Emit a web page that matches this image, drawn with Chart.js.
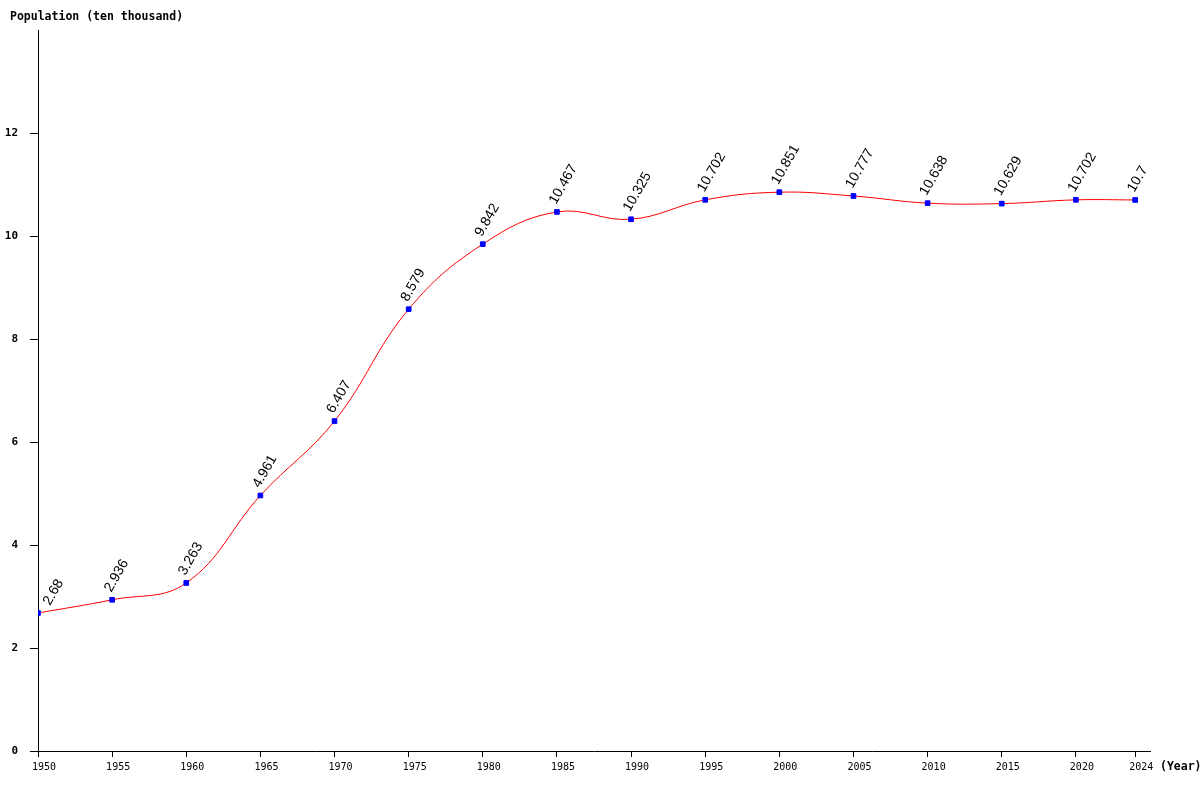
<!DOCTYPE html>
<html>
<head>
<meta charset="utf-8">
<style>
  html, body { margin: 0; padding: 0; background: #fff; }
  #wrap { width: 1200px; height: 800px; }
</style>
<script src="https://cdn.jsdelivr.net/npm/chart.js@4/dist/chart.umd.min.js"></script>
</head>
<body>
<div id="wrap"><canvas id="chart" width="1200" height="800"></canvas></div>
<script>
var YEARS = [1950, 1955, 1960, 1965, 1970, 1975, 1980, 1985, 1990, 1995, 2000, 2005, 2010, 2015, 2020, 2024];
var POPULATION = [2.68, 2.936, 3.263, 4.961, 6.407, 8.579, 9.842, 10.467, 10.325, 10.702, 10.851, 10.777, 10.638, 10.629, 10.702, 10.7];
var Y_TICKS = [0, 2, 4, 6, 8, 10, 12];
var Y_TITLE = 'Population (ten thousand)';
var X_TITLE = '(Year)';

var MONO = '"DejaVu Sans Mono", "Liberation Mono", monospace';

// point value labels, rotated, plus the two axis captions
var labelsPlugin = {
  id: 'labels',
  afterDatasetsDraw: function (chart) {
    var ctx = chart.ctx;
    var left = chart.chartArea.left;
    var meta = chart.getDatasetMeta(0);
    ctx.save();
    ctx.fillStyle = '#000';
    ctx.font = '14px "Liberation Sans", Arial, sans-serif';
    ctx.textAlign = 'left';
    ctx.textBaseline = 'alphabetic';
    meta.data.forEach(function (pt, i) {
      var x = Math.max(pt.x - 1, left + 12);
      ctx.save();
      ctx.translate(x, pt.y - 7);
      ctx.rotate(-Math.PI / 3);
      ctx.fillText(String(POPULATION[i]), 0, 0);
      ctx.restore();
    });
    ctx.font = 'bold 11.5px ' + MONO;
    ctx.textBaseline = 'middle';
    ctx.fillText(Y_TITLE, 10, 17);
    ctx.fillText(X_TITLE, 1160, 767);
    ctx.restore();
  }
};

new Chart(document.getElementById('chart').getContext('2d'), {
  type: 'line',
  data: {
    datasets: [{
      data: YEARS.map(function (y, i) { return { x: y, y: POPULATION[i] }; }),
      borderColor: '#ff0000',
      borderWidth: 1,
      tension: 0.4,
      fill: false,
      pointStyle: 'rect',
      pointRadius: 3.3,
      pointBorderWidth: 1,
      pointBackgroundColor: '#0000ff',
      pointBorderColor: '#0000ff'
    }]
  },
  options: {
    responsive: false,
    animation: false,
    layout: { padding: { left: 0, top: 30, right: 50, bottom: 0 } },
    plugins: { legend: { display: false }, tooltip: { enabled: false } },
    scales: {
      x: {
        type: 'linear', min: 1950, max: 2025,
        afterFit: function (s) { s.height = 49; },
        afterBuildTicks: function (s) { s.ticks = YEARS.map(function (y) { return { value: y }; }); },
        ticks: { autoSkip: false, maxRotation: 0, color: '#000', padding: 4,
          font: { family: MONO, size: 10 }, callback: function (v) { return '  ' + v; } },
        grid: { drawOnChartArea: false, drawTicks: true, tickLength: 6, color: '#000' },
        border: { display: true, color: '#000', width: 1 }
      },
      y: {
        min: 0, max: 14,
        afterFit: function (s) { s.width = 38; },
        afterBuildTicks: function (s) { s.ticks = Y_TICKS.map(function (v) { return { value: v }; }); },
        ticks: { color: '#000', padding: 12, font: { family: MONO, size: 11, weight: 'bold' } },
        grid: { drawOnChartArea: false, drawTicks: true, tickLength: 8, color: '#000' },
        border: { display: true, color: '#000', width: 1 }
      }
    }
  },
  plugins: [labelsPlugin]
});
</script>
</body>
</html>
